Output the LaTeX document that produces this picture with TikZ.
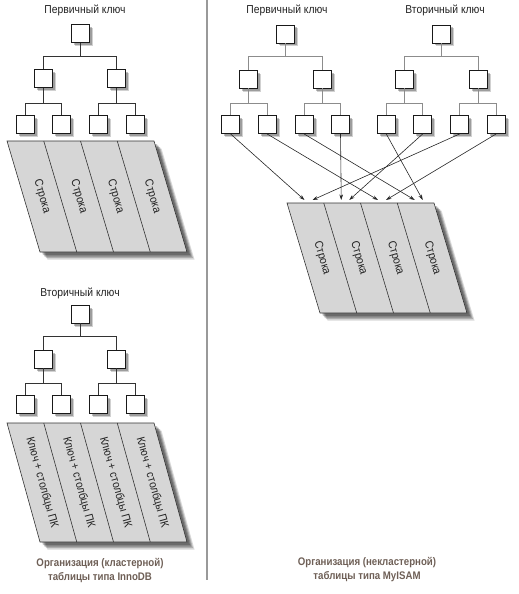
\documentclass[tikz,border=0pt]{standalone}
\usepackage{fontspec}
\setmainfont{Liberation Sans}
\newfontfamily\capfont[FakeStretch=0.88]{Liberation Sans Bold}
\newfontfamily\lblfont[FakeStretch=0.9]{Liberation Sans}
\usetikzlibrary{shadows,arrows.meta}
\definecolor{capcol}{HTML}{6E5F56}
\definecolor{stripfill}{HTML}{D6D6D6}
\definecolor{txtcol}{HTML}{222222}

% tree: #1 prefix, #2 root x, #3 root y, #4 upper line style, #5 lower line style
\newcommand\ktree[5]{%
  \node[kbox] (#1r) at (#2,#3) {};
  \node[kbox] (#1a) at (#2-36.75,#3+45) {};
  \node[kbox] (#1b) at (#2+36.75,#3+45) {};
  \node[kbox] (#1a1) at (#2-55,#3+90.5) {};
  \node[kbox] (#1a2) at (#2-18.5,#3+90.5) {};
  \node[kbox] (#1b1) at (#2+18.5,#3+90.5) {};
  \node[kbox] (#1b2) at (#2+55,#3+90.5) {};
  \draw[#4] (#1r.south) -- (#1r.south |- 0,#3+22.5);
  \draw[#4] (#1a.north) -- (#1a.north |- 0,#3+22.5) -- (#1b.north |- 0,#3+22.5) -- (#1b.north);
  \draw[#5] (#1a.south) -- (#1a.south |- 0,#3+69.5);
  \draw[#5] (#1a1.north) -- (#1a1.north |- 0,#3+69.5) -- (#1a2.north |- 0,#3+69.5) -- (#1a2.north);
  \draw[#5] (#1b.south) -- (#1b.south |- 0,#3+69.5);
  \draw[#5] (#1b1.north) -- (#1b1.north |- 0,#3+69.5) -- (#1b2.north |- 0,#3+69.5) -- (#1b2.north);
}

% table: #1 prefix, #2 x top-left, #3 y top, #4 height, #5 angle, #6 text
\newcommand\ktable[6]{%
  \foreach \s/\o in {3/0.22,4.5/0.22,6/0.2,7.5/0.15}{
    \fill[black,opacity=\o] (#2+\s,#3+\s) -- ++(147,0) -- ++(33,#4) -- ++(-147,0) -- cycle;
  }
  \fill[stripfill] (#2,#3) -- ++(147,0) -- ++(33,#4) -- ++(-147,0) -- cycle;
  \foreach \i in {1,2,3}{
    \draw[stripline] (#2+36.75*\i,#3) -- ++(33,#4);
  }
  \draw[stripline] (#2,#3) -- ++(147,0) -- ++(33,#4) -- ++(-147,0) -- cycle;
  \foreach \i in {0,1,2,3}{
    \node[striptext,rotate=#5] (#1t\i) at (#2+18.4+16.5+36.75*\i,#3+#4/2) {#6};
  }
}

\begin{document}
\begin{tikzpicture}[x=1pt,y=-1pt,
  kbox/.style={draw=black!90, fill=white, line width=0.75pt, minimum width=18pt,
    minimum height=18pt, inner sep=0pt,
    drop shadow={shadow xshift=3.5pt, shadow yshift=-3.5pt, fill=black, opacity=0.18},
    drop shadow={shadow xshift=2.5pt, shadow yshift=-2.5pt, fill=black, opacity=0.25}},
  dark/.style={draw=black!80, line width=0.7pt},
  light/.style={draw=black!45, line width=0.7pt},
  stripline/.style={draw=black!80, line width=0.6pt, line join=miter},
  striptext/.style={font=\lblfont\fontsize{11.5}{13}\selectfont, text=txtcol, inner sep=0pt},
  title/.style={font=\lblfont\fontsize{11.5}{13}\selectfont, text=txtcol, inner sep=0pt},
  caption/.style={font=\capfont\fontsize{11}{14}\selectfont, text=capcol,
    align=center, inner sep=0pt},
  arr/.style={draw=black!85, line width=0.6pt, -{Stealth[length=5.5pt,width=3.6pt]}}
]
\useasboundingbox (0,0) rectangle (519,594);

% separator
\draw[draw=black!40, line width=2pt] (207,0) -- (207,580);

% ---------- left: InnoDB ----------
\node[title] (tpk) at (85,10) {Первичный ключ};
\ktree{tl}{80}{33.5}{dark}{dark}
\ktable{ta}{7}{141}{111}{-73.4}{Строка}

\node[title] (tsk) at (80,293) {Вторичный ключ};
\ktree{bl}{80}{314}{dark}{dark}
\ktable{tb}{7}{423}{119}{-74.5}{Ключ + столбцы ПК}

\node[caption] (capl) at (100,570) {Организация (кластерной)\\таблицы типа InnoDB};

% ---------- right: MyISAM ----------
\node[title] (rpk) at (287,10) {Первичный ключ};
\node[title] (rsk) at (445,10) {Вторичный ключ};
\ktree{pr}{285.5}{34}{light}{light}
\ktree{sr}{441.25}{34}{light}{light}
\ktable{tr}{287}{203}{110}{-73.3}{Строка}

% arrow targets on top edge of the table
\foreach \i in {0,1,2,3}{
  \coordinate (L\i) at (287+17.5+36.75*\i,200);
  \coordinate (R\i) at (287+25.5+36.75*\i,200);
}
\draw[arr] (pra1.south) -- (L0);
\draw[arr] (pra2.south) -- (L2);
\draw[arr] (prb1.south) -- (L3);
\draw[arr] (prb2.south) -- (L1);
\draw[arr] (sra1.south) -- (R3);
\draw[arr] (sra2.south) -- (R1);
\draw[arr] (srb1.south) -- (R0);
\draw[arr] (srb2.south) -- (R2);

\node[caption] (capr) at (367,569.5) {Организация (некластерной)\\таблицы типа MyISAM};
\end{tikzpicture}
\end{document}
